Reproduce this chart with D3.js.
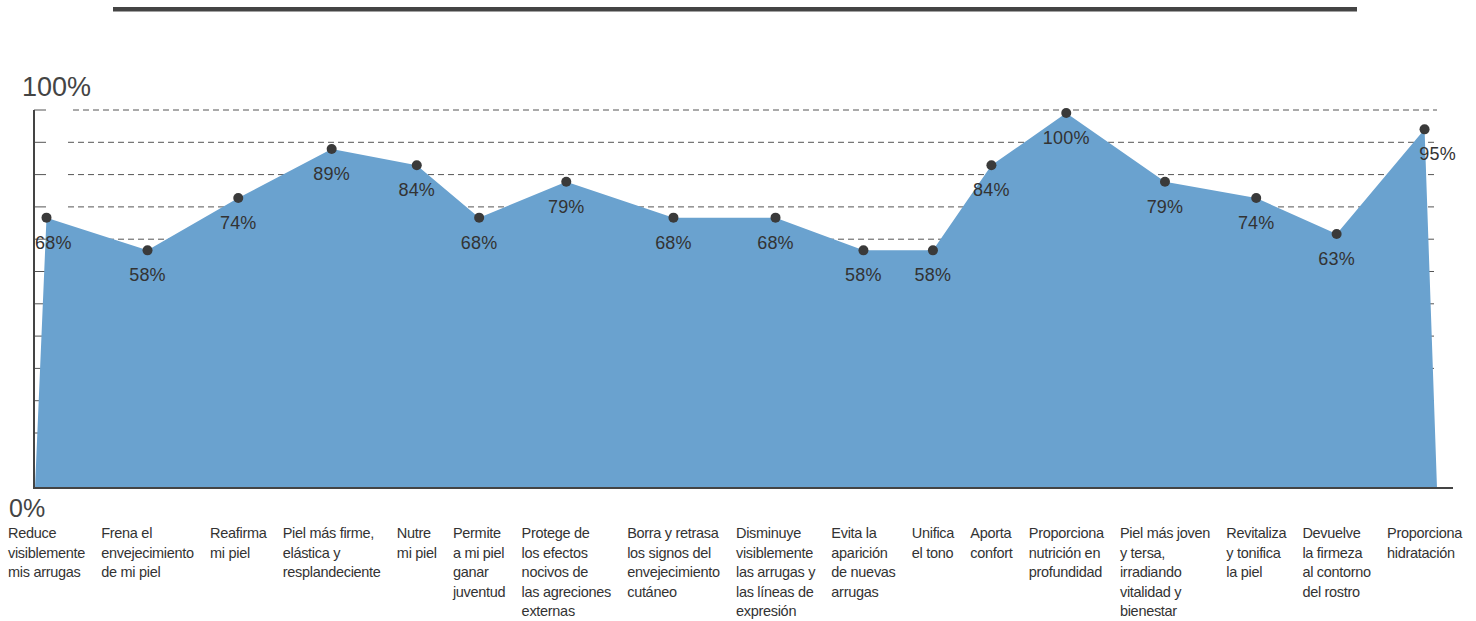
<!DOCTYPE html>
<html>
<head>
<meta charset="utf-8">
<script src="https://cdn.jsdelivr.net/npm/d3@7"></script>
<style>
  html, body { margin: 0; padding: 0; background: #fff; }
  svg { display: block; font-family: "Liberation Sans", Arial, sans-serif; }
  .cat-label { font-size: 14.5px; fill: #333; letter-spacing: -0.3px; }
  .val-label { font-size: 18px; fill: #333; letter-spacing: 0.2px; }
  .axis-end { fill: #444; }
  .grid line { stroke: #555; stroke-width: 1; stroke-dasharray: 6 4; }
</style>
</head>
<body>
<div id="chart"></div>
<script>
// benefit statements, one array of lines per column
const categories = [
    ['Reduce', 'visiblemente', 'mis arrugas'],
    ['Frena el', 'envejecimiento', 'de mi piel'],
    ['Reafirma', 'mi piel'],
    ['Piel más firme,', 'elástica y', 'resplandeciente'],
    ['Nutre', 'mi piel'],
    ['Permite', 'a mi piel', 'ganar', 'juventud'],
    ['Protege de', 'los efectos', 'nocivos de', 'las agreciones', 'externas'],
    ['Borra y retrasa', 'los signos del', 'envejecimiento', 'cutáneo'],
    ['Disminuye', 'visiblemente', 'las arrugas y', 'las líneas de', 'expresión'],
    ['Evita la', 'aparición', 'de nuevas', 'arrugas'],
    ['Unifica', 'el tono'],
    ['Aporta', 'confort'],
    ['Proporciona', 'nutrición en', 'profundidad'],
    ['Piel más joven', 'y tersa,', 'irradiando', 'vitalidad y', 'bienestar'],
    ['Revitaliza', 'y tonifica', 'la piel'],
    ['Devuelve', 'la firmeza', 'al contorno', 'del rostro'],
    ['Proporciona', 'hidratación']
];

const values = [68, 58, 74, 89, 84, 68, 79, 68, 68, 58, 58, 84, 100, 79, 74, 63, 95];

const axisLabels = ['0%', '100%'];
const gridTicks = d3.range(11);

class BenefitAreaChart {
    constructor(selector, options = {}) {
        this.selector = selector;
        this.options = {
            width: 1476,
            height: 621,
            axisX: 34,
            topY: 110,
            baseY: 488,
            plotRight: 1437,
            baseRight: 1453,
            labelLeft: 8,
            labelRight: 1462,
            labelTop: 538,
            lineHeight: 19.5,
            color: '#6aa2cf',
            ...options
        };
        this.init();
    }

    init() {
        const o = this.options;
        this.svg = d3.select(this.selector).append('svg')
            .attr('width', o.width)
            .attr('height', o.height);

        // value scale (the picture's 0% sits below the drawn baseline)
        this.y = d3.scaleLinear().domain([0, 100]).range([440, 113]);
        this.grid = d3.scaleLinear().domain([0, 10]).range([o.topY, o.topY + 323]);

        this.render();
    }

    layoutLabels() {
        const o = this.options;
        const g = this.svg.append('g');
        const cols = g.selectAll('text')
            .data(categories)
            .join('text')
            .attr('class', 'cat-label');
        cols.selectAll('tspan')
            .data(d => d)
            .join('tspan')
            .attr('x', 0)
            .attr('y', (d, i) => o.labelTop + i * o.lineHeight)
            .text(d => d);

        // width of each column = its widest line
        const widths = [];
        cols.each(function () {
            let w = 0;
            d3.select(this).selectAll('tspan').each(function () {
                w = Math.max(w, this.getComputedTextLength());
            });
            widths.push(w);
        });
        const gap = (o.labelRight - o.labelLeft - d3.sum(widths)) / (widths.length - 1);
        const lefts = [];
        let cur = o.labelLeft;
        widths.forEach(w => { lefts.push(cur); cur += w + gap; });

        cols.attr('transform', (d, i) => `translate(${lefts[i]},0)`);
        this.x = d3.scaleOrdinal()
            .domain(d3.range(categories.length))
            .range(lefts.map((l, i) => l + widths[i] / 2));
    }

    render() {
        const o = this.options;

        // top rule
        this.svg.append('rect')
            .attr('x', 113).attr('y', 7)
            .attr('width', 1244).attr('height', 4.5)
            .attr('fill', '#444');

        this.layoutLabels();

        // dashed grid
        const grid = this.svg.append('g').attr('class', 'grid');
        grid.selectAll('line')
            .data(gridTicks)
            .join('line')
            .attr('x1', d => d === 0 ? 73 : 68)
            .attr('x2', o.plotRight)
            .attr('y1', d => this.grid(d))
            .attr('y2', d => this.grid(d));

        // small solid ticks on the axis
        this.svg.append('g')
            .selectAll('line')
            .data(gridTicks)
            .join('line')
            .attr('x1', o.axisX)
            .attr('x2', o.axisX + 12)
            .attr('y1', d => this.grid(d))
            .attr('y2', d => this.grid(d))
            .attr('stroke', '#555')
            .attr('stroke-width', 1);

        // area
        const pts = values.map((v, i) => [this.x(i), this.y(v)]);
        const poly = [[o.axisX + 1, o.baseY], ...pts, [o.plotRight, o.baseY]];
        this.svg.append('path')
            .attr('d', d3.line()(poly) + 'Z')
            .attr('fill', o.color);

        // axes
        this.svg.append('line')
            .attr('x1', o.axisX).attr('x2', o.axisX)
            .attr('y1', o.topY).attr('y2', o.baseY + 1)
            .attr('stroke', '#444').attr('stroke-width', 2);
        this.svg.append('line')
            .attr('x1', o.axisX - 1).attr('x2', o.baseRight)
            .attr('y1', o.baseY).attr('y2', o.baseY)
            .attr('stroke', '#444').attr('stroke-width', 2);

        this.svg.append('text')
            .attr('class', 'axis-end')
            .attr('x', 22).attr('y', 96)
            .style('font-size', '27px')
            .text(axisLabels[1]);
        this.svg.append('text')
            .attr('class', 'axis-end')
            .attr('x', 9).attr('y', 517)
            .style('font-size', '25px')
            .text(axisLabels[0]);

        // points
        this.svg.append('g')
            .selectAll('circle')
            .data(values)
            .join('circle')
            .attr('cx', (d, i) => this.x(i))
            .attr('cy', d => this.y(d))
            .attr('r', 5)
            .attr('fill', '#3a3a3a');

        // value labels
        const last = values.length - 1;
        this.svg.append('g')
            .selectAll('text')
            .data(values)
            .join('text')
            .attr('class', 'val-label')
            .attr('text-anchor', (d, i) => i === 0 ? 'start' : 'middle')
            .attr('x', (d, i) => i === 0 ? o.axisX + 1 : this.x(i) + (i === last ? 13 : 0))
            .attr('y', d => this.y(d) + 31)
            .text(d => `${d}%`);
    }
}

new BenefitAreaChart('#chart');
</script>
</body>
</html>
